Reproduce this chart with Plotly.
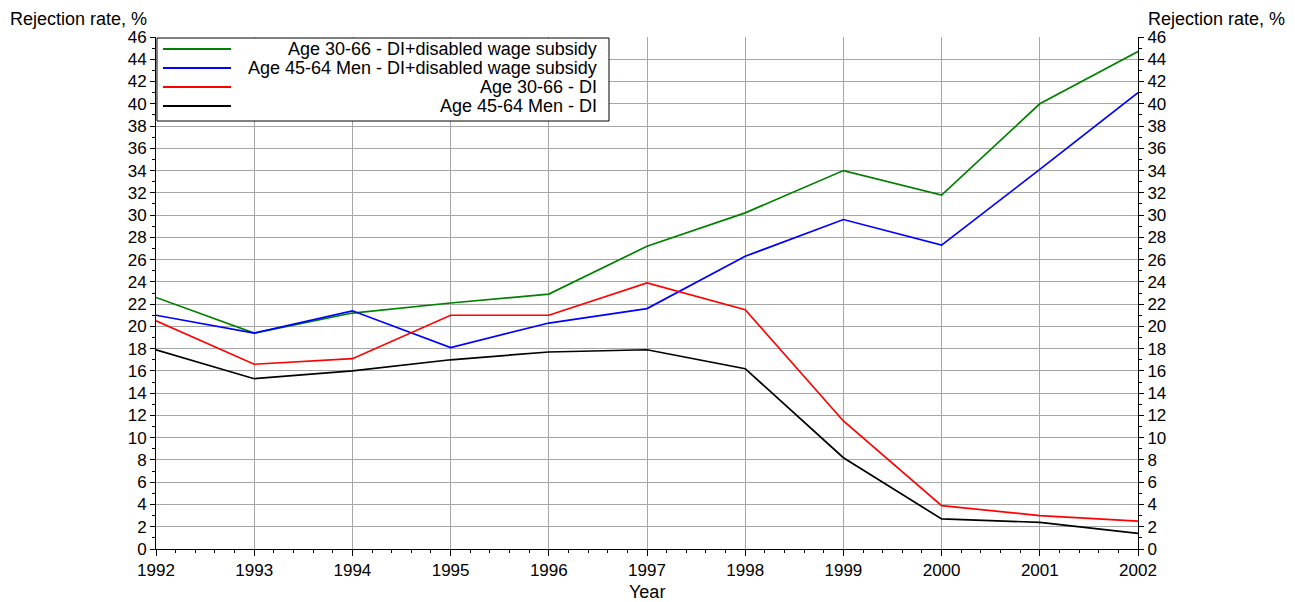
import plotly.graph_objects as go

years = [1992, 1993, 1994, 1995, 1996, 1997, 1998, 1999, 2000, 2001, 2002]

age30_dws = [22.6, 19.4, 21.2, 22.1, 22.9, 27.2, 30.2, 34.0, 31.8, 40.0, 44.7]
men45_dws = [21.0, 19.4, 21.4, 18.1, 20.3, 21.6, 26.3, 29.6, 27.3, 34.1, 41.0]
age30_di = [20.5, 16.6, 17.1, 21.0, 21.0, 23.9, 21.5, 11.5, 3.9, 3.0, 2.5]
men45_di = [17.9, 15.3, 16.0, 17.0, 17.7, 17.9, 16.2, 8.2, 2.7, 2.4, 1.4]

series = [
    ("Age 30-66 - DI+disabled wage subsidy", age30_dws, "#008000"),
    ("Age 45-64 Men - DI+disabled wage subsidy", men45_dws, "#0000ff"),
    ("Age 30-66 - DI", age30_di, "#ff0000"),
    ("Age 45-64 Men - DI", men45_di, "#000000"),
]

fig = go.Figure()
for name, vals, col in series:
    fig.add_trace(go.Scatter(x=years, y=vals, mode="lines", name=name,
                             line=dict(color=col, width=1.7)))

# invisible trace so the right-hand axis shows up
fig.add_trace(go.Scatter(x=years, y=age30_dws, yaxis="y2", mode="lines",
                         line=dict(width=0), showlegend=False, hoverinfo="skip"))

font = "Liberation Sans, Arial, sans-serif"
yax = dict(range=[0, 46], dtick=2, showgrid=True, gridcolor="#a6a6a6", gridwidth=1,
           showline=True, linecolor="#000000", linewidth=1, ticks="outside",
           ticklen=5, tickcolor="#000000", zeroline=False,
           minor=dict(dtick=1, ticks="outside", ticklen=3, tickcolor="#000000"),
           tickfont=dict(size=17, color="#000000"))

# legend drawn by hand (box, samples, right-aligned labels like the original)
shapes = [dict(type="rect", xref="paper", yref="paper", x0=0.001, x1=0.4613,
               y0=0.8359, y1=0.998, line=dict(color="#000000", width=1),
               fillcolor="white", layer="above")]
annotations = []
rows = [0.9766, 0.9395, 0.9023, 0.8652]
for (name, vals, col), ry in zip(series, rows):
    shapes.append(dict(type="line", xref="paper", yref="paper", x0=0.0071, x1=0.0764,
                       y0=ry, y1=ry, line=dict(color=col, width=2), layer="above"))
    annotations.append(dict(text=name, x=0.4511, y=ry, xref="paper", yref="paper",
                            xanchor="right", yanchor="middle", showarrow=False,
                            font=dict(size=18)))

annotations += [
    dict(text="Rejection rate, %", x=-0.1507, y=1.0, xref="paper", yref="paper",
         xanchor="left", yanchor="middle", yshift=18, showarrow=False,
         font=dict(size=18)),
    dict(text="Rejection rate, %", x=1.008, y=1.0, xref="paper", yref="paper",
         xanchor="left", yanchor="middle", yshift=18, showarrow=False,
         font=dict(size=18)),
    dict(text="Year", x=0.5, y=0, xref="paper", yref="paper",
         xanchor="center", yanchor="middle", yshift=-43, showarrow=False,
         font=dict(size=18)),
]

fig.update_layout(
    width=1295, height=602,
    margin=dict(l=156, r=157, t=37, b=53),
    paper_bgcolor="white", plot_bgcolor="white",
    font=dict(family=font, color="#000000"),
    showlegend=False,
    xaxis=dict(range=[1992, 2002], dtick=1, showgrid=True, gridcolor="#a6a6a6",
               showline=True, linecolor="#000000", ticks="outside", ticklen=6,
               tickcolor="#000000", zeroline=False,
               minor=dict(dtick=0.2, ticks="outside", ticklen=3, tickcolor="#000000"),
               tickfont=dict(size=17, color="#000000")),
    yaxis=yax,
    yaxis2=dict(yax, overlaying="y", side="right", showgrid=False),
    shapes=shapes,
    annotations=annotations,
)

fig.write_html("out.html", config={"displayModeBar": False},
               post_script="document.body.style.margin='0';")
